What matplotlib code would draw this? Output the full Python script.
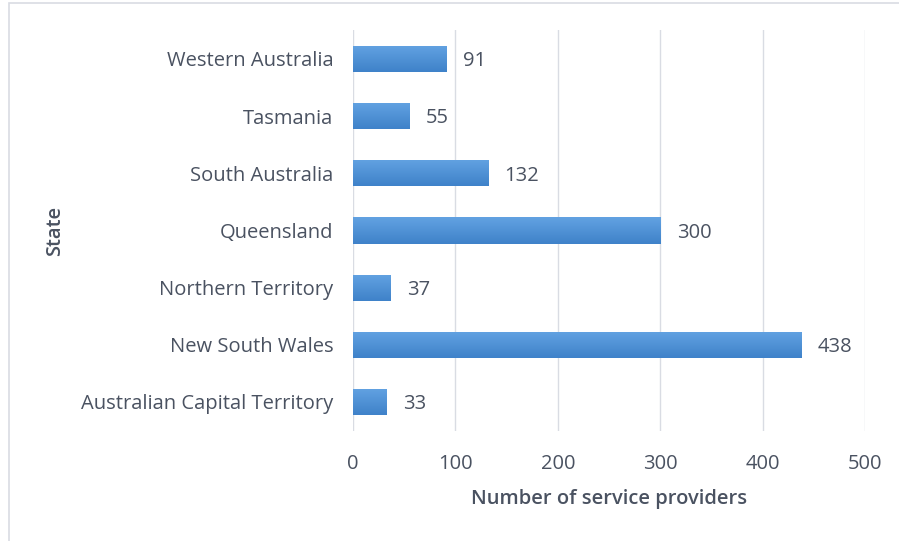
import numpy as np
import matplotlib.pyplot as plt
from matplotlib.patches import Rectangle

# Data
states = ['Australian Capital Territory', 'New South Wales', 'Northern Territory',
          'Queensland', 'South Australia', 'Tasmania', 'Western Australia']
providers = [33, 438, 37, 300, 132, 55, 91]
xticks = [0, 100, 200, 300, 400, 500]

plt.rcParams['font.family'] = ['Open Sans', 'DejaVu Sans']
txt = '#4A5261'
grid = '#D9DCE3'
fs = 14.5

fig = plt.figure(figsize=(8.99, 5.41), dpi=100)
ax = fig.add_axes([0.3927, 0.2041, 0.5695, 0.7397])

# chart area border (cut off at right and bottom like the reference)
fig.patches.append(Rectangle((9/899, -0.05), 1.2, 1 - 3/541 + 0.05,
                             transform=fig.transFigure, fill=False,
                             edgecolor=grid, lw=1.2))

y = np.arange(len(states))
bars = ax.barh(y, providers, height=0.46, color='#4A8FD6', zorder=2)

# vertical gradient in each bar, lighter top and darker bottom
grad = np.linspace(0, 1, 64).reshape(-1, 1)
cmap = plt.matplotlib.colors.LinearSegmentedColormap.from_list(
    'g', ['#3F82C9', '#62A2E2'])
for b in bars:
    x0, y0 = b.get_x(), b.get_y()
    w, h = b.get_width(), b.get_height()
    im = ax.imshow(grad, extent=(x0, x0 + w, y0, y0 + h), aspect='auto',
                   cmap=cmap, origin='lower', zorder=3)
    im.set_clip_path(b)

for yi, v in zip(y, providers):
    ax.text(v + 16, yi - 0.04, str(v), va='center', ha='left', fontsize=fs,
            color=txt)

ax.set_xlim(0, 500)
ax.set_ylim(-0.5, len(states) - 0.5)
ax.set_xticks(xticks)
ax.set_yticks(y)
ax.set_yticklabels(states)
ax.tick_params(axis='both', length=0, labelsize=fs, labelcolor=txt)
ax.tick_params(axis='y', pad=14)
ax.tick_params(axis='x', pad=17)
ax.grid(axis='x', color=grid, lw=1, zorder=0)
for s in ax.spines.values():
    s.set_visible(False)

ax.set_xlabel('Number of service providers', fontsize=fs, color=txt,
              fontweight='semibold', labelpad=11)
fig.text(55/899, 0.5 * (0.2041 + 0.9438), 'State', rotation=90, fontsize=fs,
         color=txt, fontweight='semibold', ha='center', va='center')

fig.savefig('out.png', dpi=100)
